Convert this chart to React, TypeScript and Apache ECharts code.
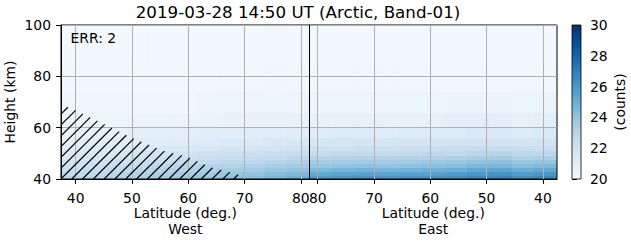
import React, { useEffect, useRef } from "react";
import * as echarts from "echarts";

// ---- track geometry (degrees of latitude) ----
const POLE_LAT = 81.5; // highest latitude of the pass (black line)
const WEST_START_LAT = 37.4; // left edge (West)
const EAST_END_LAT = 37.5; // right edge (East)

// ---- tick labels ----
const westTickLats = [40, 50, 60, 70, 80];
const eastTickLats = [80, 70, 60, 50, 40];
const heightTicks = [40, 60, 80, 100];
const colorTicks = [20, 22, 24, 26, 28, 30];

// ---- heatmap cells ----
const westColEdges = [37.4, 41.5, 45.5, 49.5, 53.5, 57.5, 61.5, 65.5, 69.5, 73.5, 77.5, 81.5];
const eastColEdges = [81.5, 77.5, 73.5, 69.5, 65.5, 61.5, 57.5, 53.5, 49.5, 45.5, 41.5, 37.5];
const heightEdges = [40, 41.5, 43, 44.5, 46, 47.5, 49, 51, 53, 56, 60, 66, 74, 85, 100];

// counts, one row per height band (bottom -> top), West columns from 37.4 to 81.5
const countsWest = [
  [22.8, 22.9, 23.1, 23.3, 23.5, 23.7, 23.9, 24.1, 24.3, 24.6, 24.9],
  [22.6, 22.7, 22.9, 23.1, 23.3, 23.5, 23.7, 23.9, 24.0, 24.3, 24.5],
  [22.3, 22.4, 22.6, 22.8, 23.0, 23.2, 23.3, 23.5, 23.6, 23.9, 24.0],
  [22.1, 22.2, 22.3, 22.5, 22.7, 22.9, 23.0, 23.1, 23.2, 23.4, 23.6],
  [21.9, 22.0, 22.1, 22.2, 22.4, 22.5, 22.6, 22.7, 22.8, 23.0, 23.2],
  [21.6, 21.7, 21.8, 21.9, 22.1, 22.2, 22.3, 22.4, 22.5, 22.6, 22.8],
  [21.4, 21.5, 21.6, 21.7, 21.8, 21.9, 22.0, 22.1, 22.2, 22.3, 22.4],
  [21.2, 21.3, 21.3, 21.4, 21.5, 21.5, 21.6, 21.7, 21.8, 21.9, 22.0],
  [21.0, 21.0, 21.1, 21.1, 21.2, 21.2, 21.3, 21.4, 21.4, 21.5, 21.6],
  [20.7, 20.8, 20.8, 20.9, 20.9, 20.9, 21.0, 21.0, 21.1, 21.1, 21.2],
  [20.5, 20.5, 20.5, 20.6, 20.6, 20.6, 20.6, 20.7, 20.7, 20.7, 20.8],
  [20.4, 20.4, 20.4, 20.4, 20.4, 20.4, 20.5, 20.5, 20.5, 20.5, 20.5],
  [20.3, 20.3, 20.3, 20.3, 20.3, 20.3, 20.3, 20.35, 20.35, 20.4, 20.35],
  [20.2, 20.2, 20.2, 20.2, 20.2, 20.2, 20.2, 20.25, 20.25, 20.3, 20.25],
];

// counts, one row per height band (bottom -> top), East columns from 81.5 down to 37.5
const countsEast = [
  [25.8, 26.0, 26.1, 26.0, 26.1, 26.2, 26.3, 26.6, 26.7, 26.3, 26.6],
  [25.2, 25.4, 25.5, 25.4, 25.5, 25.6, 25.7, 26.0, 26.1, 25.7, 26.0],
  [24.5, 24.7, 24.8, 24.7, 24.8, 24.9, 25.0, 25.3, 25.4, 25.0, 25.3],
  [23.9, 24.0, 24.1, 24.0, 24.1, 24.2, 24.3, 24.6, 24.6, 24.3, 24.5],
  [23.5, 23.6, 23.7, 23.6, 23.7, 23.8, 23.9, 24.1, 24.2, 23.9, 24.0],
  [23.0, 23.1, 23.2, 23.1, 23.2, 23.2, 23.3, 23.5, 23.6, 23.3, 23.4],
  [22.5, 22.6, 22.6, 22.5, 22.6, 22.7, 22.7, 22.9, 23.0, 22.8, 22.8],
  [22.1, 22.1, 22.2, 22.1, 22.2, 22.2, 22.3, 22.4, 22.4, 22.3, 22.3],
  [21.7, 21.7, 21.8, 21.7, 21.8, 21.8, 21.8, 21.9, 21.9, 21.8, 21.9],
  [21.2, 21.3, 21.3, 21.2, 21.3, 21.3, 21.3, 21.4, 21.4, 21.3, 21.4],
  [20.8, 20.8, 20.8, 20.8, 20.8, 20.8, 20.9, 20.9, 20.9, 20.8, 20.9],
  [20.5, 20.5, 20.5, 20.5, 20.5, 20.5, 20.6, 20.6, 20.6, 20.5, 20.6],
  [20.35, 20.35, 20.35, 20.35, 20.35, 20.35, 20.35, 20.35, 20.35, 20.35, 20.35],
  [20.2, 20.2, 20.2, 20.2, 20.2, 20.2, 20.2, 20.2, 20.2, 20.2, 20.2],
];

// hatched (invalid) region, West side: upper boundary
const hatchLat = [37.4, 39.0, 44.3, 49.6, 55.5, 59.8, 63.9, 68.6, 70.0];
const hatchTop = [68.4, 67.8, 62.2, 56.4, 51.0, 48.7, 44.6, 42.0, 40.0];

// matplotlib "Blues"
const blues = ["#f7fbff", "#deebf7", "#c6dbef", "#9ecae1", "#6baed6", "#4292c6", "#2171b5", "#08519c", "#08306b"];

const FONT = "DejaVu Sans";
const TICK_FS = 13.9;

const westPos = (lat: number) => lat;
const eastPos = (lat: number) => 2 * POLE_LAT - lat;

function buildCells() {
  const cells: number[][] = [];
  for (let r = 0; r < heightEdges.length - 1; r++) {
    for (let c = 0; c < westColEdges.length - 1; c++) {
      cells.push([westPos(westColEdges[c]), westPos(westColEdges[c + 1]), heightEdges[r], heightEdges[r + 1], countsWest[r][c]]);
    }
    for (let c = 0; c < eastColEdges.length - 1; c++) {
      cells.push([eastPos(eastColEdges[c]), eastPos(eastColEdges[c + 1]), heightEdges[r], heightEdges[r + 1], countsEast[r][c]]);
    }
  }
  return cells;
}

function hatchSegments(poly: number[][], spacing: number, anchor: number) {
  const sums = poly.map((p) => p[0] + p[1]);
  const cMin = Math.min(...sums);
  const cMax = Math.max(...sums);
  const kStart = Math.ceil((cMin - anchor) / spacing);
  const segs: number[][] = [];
  for (let c = anchor + kStart * spacing; c <= cMax + 0.001; c += spacing) {
    const xs: number[] = [];
    for (let i = 0; i < poly.length; i++) {
      const a = poly[i];
      const b = poly[(i + 1) % poly.length];
      const fa = a[0] + a[1] - c;
      const fb = b[0] + b[1] - c;
      if ((fa < 0 && fb >= 0) || (fa >= 0 && fb < 0)) {
        const t = fa / (fa - fb);
        xs.push(a[0] + t * (b[0] - a[0]));
      }
    }
    xs.sort((p, q) => p - q);
    for (let j = 0; j + 1 < xs.length; j += 2) {
      segs.push([xs[j], c - xs[j], xs[j + 1], c - xs[j + 1]]);
    }
  }
  return segs;
}

const tickPositions = [...westTickLats.map(westPos), ...eastTickLats.map(eastPos)];

function buildOption(): any {
  const cells = buildCells();
  const xMin = westPos(WEST_START_LAT);
  const xMax = eastPos(EAST_END_LAT);
  return {
    animation: false,
    textStyle: { fontFamily: FONT },
    grid: [
      { left: 61, right: 74, top: 25, bottom: 64, containLabel: false, outerBoundsMode: "none", show: true, borderColor: "#000", borderWidth: 1, backgroundColor: "transparent", z: 5 },
      { left: 572, right: 50, top: 25, bottom: 64, containLabel: false, outerBoundsMode: "none", show: false },
    ],
    xAxis: [
      {
        type: "value",
        gridIndex: 0,
        min: xMin,
        max: xMax,
        z: 5,
        axisLine: { show: true, lineStyle: { color: "#000", width: 1 } },
        axisTick: { show: true, customValues: tickPositions, length: 4.9, lineStyle: { color: "#000", width: 1 } },
        axisLabel: {
          customValues: tickPositions,
          showMinLabel: true,
          showMaxLabel: true,
          margin: 11.5,
          fontSize: TICK_FS,
          fontFamily: FONT,
          color: "#000",
          formatter: (v: number) => String(Math.round(v <= POLE_LAT ? v : 2 * POLE_LAT - v)),
        },
        splitLine: { show: true, lineStyle: { color: "#b0b0b0", width: 1 } },
      },
      { type: "value", gridIndex: 1, min: 0, max: 1, show: false },
    ],
    yAxis: [
      {
        type: "value",
        gridIndex: 0,
        min: heightTicks[0],
        max: heightTicks[heightTicks.length - 1],
        interval: 20,
        z: 5,
        name: "Height (km)",
        nameLocation: "middle",
        nameRotate: 90,
        nameGap: 44,
        nameMoveOverlap: false,
        nameTextStyle: { fontSize: TICK_FS, fontFamily: FONT, color: "#000" },
        axisLine: { show: true, lineStyle: { color: "#000", width: 1 } },
        axisTick: { show: true, length: 4.9, lineStyle: { color: "#000", width: 1 } },
        axisLabel: { margin: 10, fontSize: TICK_FS, fontFamily: FONT, color: "#000" },
        splitLine: { show: true, lineStyle: { color: "#b0b0b0", width: 1 } },
      },
      {
        type: "value",
        gridIndex: 1,
        position: "right",
        min: colorTicks[0],
        max: colorTicks[colorTicks.length - 1],
        interval: 2,
        name: "(counts)",
        nameLocation: "middle",
        nameRotate: 90,
        nameGap: 32,
        nameMoveOverlap: false,
        nameTextStyle: { fontSize: TICK_FS, fontFamily: FONT, color: "#000" },
        axisLine: { show: false },
        axisTick: { show: true, length: 4.9, lineStyle: { color: "#000", width: 1 } },
        axisLabel: { margin: 9, fontSize: TICK_FS, fontFamily: FONT, color: "#000" },
        splitLine: { show: false },
      },
    ],
    visualMap: {
      type: "continuous",
      show: false,
      min: colorTicks[0],
      max: colorTicks[colorTicks.length - 1],
      dimension: 4,
      seriesIndex: 0,
      inRange: { color: blues },
    },
    series: [
      {
        type: "custom",
        name: "counts",
        xAxisIndex: 0,
        yAxisIndex: 0,
        z: 2,
        clip: true,
        silent: true,
        encode: { x: [0, 1], y: [2, 3] },
        data: cells,
        renderItem: (_params: any, api: any) => {
          const p0 = api.coord([api.value(0), api.value(3)]);
          const p1 = api.coord([api.value(1), api.value(2)]);
          const color = api.visual("color");
          return {
            type: "rect",
            shape: { x: p0[0], y: p0[1], width: p1[0] - p0[0], height: p1[1] - p0[1] },
            style: { fill: color, stroke: color, lineWidth: 0.6 },
          };
        },
      },
      {
        type: "custom",
        name: "hatch",
        xAxisIndex: 0,
        yAxisIndex: 0,
        z: 6,
        clip: true,
        silent: true,
        encode: { x: 0, y: 1 },
        data: [[hatchLat[0], hatchTop[0]]],
        renderItem: (_params: any, api: any) => {
          const poly: number[][] = hatchLat.map((lat, i) => api.coord([westPos(lat), hatchTop[i]]));
          poly.push(api.coord([westPos(hatchLat[0]), heightTicks[0]]));
          const br = api.coord([westPos(hatchLat[hatchLat.length - 1]), heightTicks[0]]);
          const segs = hatchSegments(poly, 10.8, br[0] + br[1]);
          return {
            type: "group",
            children: segs.map((s) => ({
              type: "line",
              shape: { x1: s[0], y1: s[1], x2: s[2], y2: s[3] },
              style: { stroke: "#000", lineWidth: 1.2 },
            })),
          };
        },
        markLine: {
          silent: true,
          symbol: "none",
          label: { show: false },
          lineStyle: { color: "#000", width: 1, type: "solid" },
          data: [{ xAxis: POLE_LAT }],
        },
      },
      {
        type: "custom",
        name: "colorbar",
        xAxisIndex: 1,
        yAxisIndex: 1,
        silent: true,
        encode: { x: [0, 2], y: [1, 3] },
        data: [[0, colorTicks[0], 1, colorTicks[colorTicks.length - 1]]],
        renderItem: (_params: any, api: any) => {
          const p0 = api.coord([api.value(0), api.value(3)]);
          const p1 = api.coord([api.value(2), api.value(1)]);
          return {
            type: "rect",
            shape: { x: p0[0], y: p0[1], width: p1[0] - p0[0], height: p1[1] - p0[1] },
            style: {
              fill: {
                type: "linear",
                x: 0,
                y: 1,
                x2: 0,
                y2: 0,
                colorStops: blues.map((c, i) => ({ offset: i / (blues.length - 1), color: c })),
              },
              stroke: "#000",
              lineWidth: 0.8,
            },
          };
        },
      },
    ],
    graphic: [
      {
        type: "text",
        x: 298,
        y: 3,
        style: { text: "2019-03-28 14:50 UT (Arctic, Band-01)", fontSize: 16.7, fontFamily: FONT, fill: "#000", textAlign: "center", textVerticalAlign: "top" },
      },
      {
        type: "text",
        x: 70.5,
        y: 30.7,
        z: 10,
        style: { text: "ERR: 2", fontSize: TICK_FS, fontFamily: FONT, fill: "#000", textAlign: "left", textVerticalAlign: "top" },
      },
      {
        type: "text",
        x: 185.3,
        y: 205,
        style: { text: "Latitude (deg.)\nWest", fontSize: TICK_FS, lineHeight: 16.2, fontFamily: FONT, fill: "#000", textAlign: "center", textVerticalAlign: "top" },
      },
      {
        type: "text",
        x: 433.3,
        y: 205,
        style: { text: "Latitude (deg.)\nEast", fontSize: TICK_FS, lineHeight: 16.2, fontFamily: FONT, fill: "#000", textAlign: "center", textVerticalAlign: "top" },
      },
    ],
  };
}

export default function App() {
  const ref = useRef<HTMLDivElement>(null);
  useEffect(() => {
    if (!ref.current) return;
    const chart = echarts.init(ref.current, null, { renderer: "svg" });
    chart.setOption(buildOption());
    return () => chart.dispose();
  }, []);
  return (
    <div
      ref={ref}
      style={{ position: "fixed", left: 0, top: 0, width: 631, height: 243, background: "#fff" }}
    />
  );
}
